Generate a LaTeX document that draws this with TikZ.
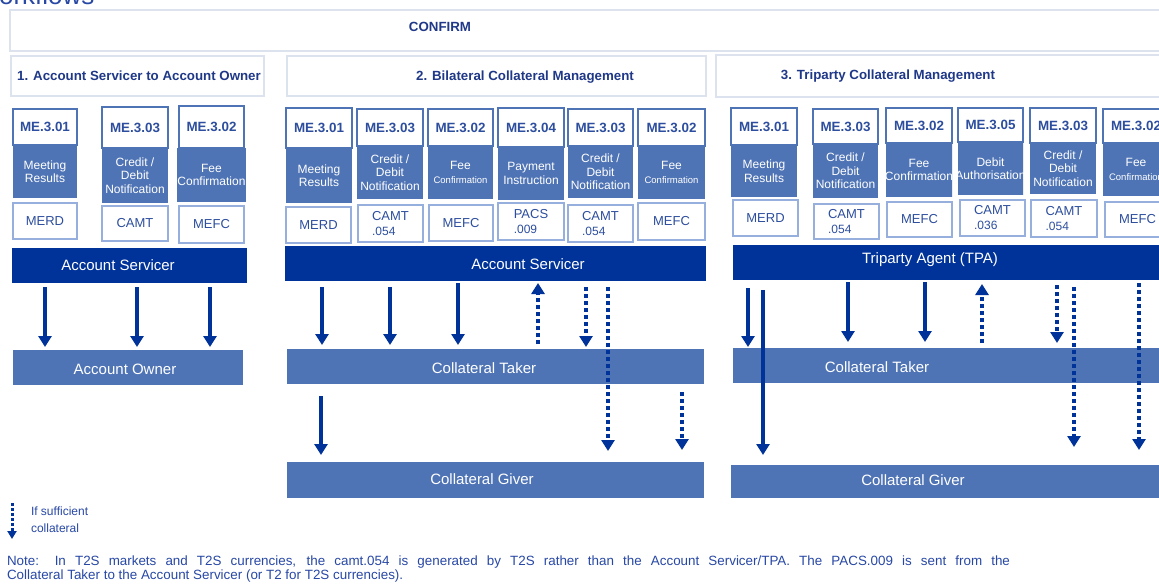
\documentclass[tikz,border=0pt]{standalone}
\usepackage{fontspec}
\setmainfont{Liberation Sans}
\usetikzlibrary{arrows.meta}
\definecolor{darkblue}{RGB}{0,51,153}
\definecolor{medblue}{RGB}{79,116,181}
\definecolor{codeblue}{RGB}{45,78,158}
\definecolor{navy}{RGB}{31,56,136}
\definecolor{msgline}{RGB}{150,175,220}
\definecolor{hdrline}{RGB}{220,226,238}
\definecolor{notecol}{RGB}{40,72,165}
\newcommand\bx[7]{\node[#2,minimum width={(#5-#3)*1pt},minimum height={(#6-#4)*1pt}] (#1) at ({(#3+#5)/2},{(#4+#6)/2}) {#7};}
\newcommand\smallconf{{\fontsize{9.5}{11}\selectfont Confirmation}}
\newcommand\smallnum[1]{{\fontsize{12}{13}\selectfont #1}}
\tikzset{
 every node/.style={inner sep=0pt, outer sep=0pt},
 frame/.style={draw=hdrline, line width=2pt, fill=white},
 codebox/.style={draw=medblue, line width=1.8pt, fill=white, text=codeblue, font=\bfseries\fontsize{13.4}{15}\selectfont},
 bodybox/.style={fill=medblue, text=white, align=center, font=\fontsize{12}{13.5}\selectfont},
 msgbox/.style={draw=msgline, line width=1.8pt, fill=white, text=codeblue, align=left, font=\fontsize{13}{15}\selectfont},
 darkbar/.style={fill=darkblue},
 midbar/.style={fill=medblue},
 bartext/.style={text=white, font=\fontsize{15}{17}\selectfont},
 hdrtext/.style={text=navy, font=\bfseries\fontsize{13.3}{15}\selectfont},
 arr/.style={draw=darkblue, line width=4pt, -{Triangle[width=13pt,length=11pt]}},
 darr/.style={arr, dash pattern=on 4pt off 3pt},
 notetext/.style={text=notecol, align=left, font=\fontsize{13.4}{14}\selectfont},
}
\begin{document}
\begin{tikzpicture}[x=1pt,y=-1pt]
\useasboundingbox[fill=white] (0,0) rectangle (1159,586);

% title fragment
\node[anchor=base west, text=notecol, font=\fontsize{26}{30}\selectfont] (title) at (-25,5) {Workflows};

% frames
\bx{confirm}{frame}{10}{10}{1175}{51}{}
\node[hdrtext] (confirmt) at (440,27) {CONFIRM};
\bx{h1}{frame}{11}{56}{264}{96}{}
\node[hdrtext] (h1t) at (139,76) {1. Account Servicer to Account Owner};
\bx{h2}{frame}{287}{56}{706}{96}{}
\node[hdrtext] (h2t) at (525,77) {2. Bilateral Collateral Management};
\bx{h3}{frame}{716}{55}{1175}{97}{}
\node[hdrtext] (h3t) at (888,76) {3. Triparty Collateral Management};

% ---------- section 1 columns
\bx{a1b}{bodybox}{13}{145}{77}{198}{Meeting\\Results}
\bx{a1c}{codebox}{13}{109}{77}{145}{ME.3.01}
\bx{a1m}{msgbox}{13}{203}{77}{239}{MERD}
\bx{a2b}{bodybox}{102}{148}{168}{203}{Credit /\\Debit\\Notification}
\bx{a2c}{codebox}{102}{107}{168}{148}{ME.3.03}
\bx{a2m}{msgbox}{102}{206}{168}{241}{CAMT}
\bx{a3b}{bodybox}{179}{148}{244}{202}{Fee\\Confirmation}
\bx{a3c}{codebox}{179}{106}{244}{148}{ME.3.02}
\bx{a3m}{msgbox}{179}{206}{244}{243}{MEFC}

% ---------- section 2 columns
\bx{b1b}{bodybox}{286}{148}{352}{203}{Meeting\\Results}
\bx{b1c}{codebox}{286}{108}{352}{148}{ME.3.01}
\bx{b1m}{msgbox}{286}{207}{351}{243}{MERD}
\bx{b2b}{bodybox}{357}{146}{423}{199}{Credit /\\Debit\\Notification}
\bx{b2c}{codebox}{357}{109}{423}{146}{ME.3.03}
\bx{b2m}{msgbox}{358}{205}{423}{242}{CAMT\\\smallnum{.054}}
\bx{b3b}{bodybox}{428}{146}{493}{199}{Fee\\\smallconf}
\bx{b3c}{codebox}{428}{109}{493}{146}{ME.3.02}
\bx{b3m}{msgbox}{429}{205}{493}{241}{MEFC}
\bx{b4b}{bodybox}{498}{147}{564}{200}{Payment\\Instruction}
\bx{b4c}{codebox}{498}{108}{564}{147}{ME.3.04}
\bx{b4m}{msgbox}{498}{203}{564}{240}{PACS\\\smallnum{.009}}
\bx{b5b}{bodybox}{568}{146}{633}{198}{Credit /\\Debit\\Notification}
\bx{b5c}{codebox}{568}{109}{633}{146}{ME.3.03}
\bx{b5m}{msgbox}{568}{205}{633}{242}{CAMT\\\smallnum{.054}}
\bx{b6b}{bodybox}{638}{146}{705}{199}{Fee\\\smallconf}
\bx{b6c}{codebox}{638}{109}{705}{146}{ME.3.02}
\bx{b6m}{msgbox}{638}{203}{705}{240}{MEFC}

% ---------- section 3 columns
\bx{c1b}{bodybox}{731}{145}{797}{197}{Meeting\\Results}
\bx{c1c}{codebox}{731}{108}{797}{145}{ME.3.01}
\bx{c1m}{msgbox}{733}{200}{798}{236}{MERD}
\bx{c2b}{bodybox}{813}{144}{878}{198}{Credit /\\Debit\\Notification}
\bx{c2c}{codebox}{813}{109}{878}{144}{ME.3.03}
\bx{c2m}{msgbox}{814}{204}{879}{239}{CAMT\\\smallnum{.054}}
\begin{scope}
\clip (886,143) rectangle (952,197);
\bx{c3b}{bodybox}{886}{143}{952}{197}{Fee\\Confirmation}
\end{scope}
\bx{c3c}{codebox}{886}{108}{952}{143}{ME.3.02}
\bx{c3m}{msgbox}{887}{202}{952}{237}{MEFC}
\begin{scope}
\clip (958,142) rectangle (1023,195);
\bx{c4b}{bodybox}{958}{142}{1023}{195}{Debit\\Authorisation}
\end{scope}
\bx{c4c}{codebox}{958}{108}{1023}{142}{ME.3.05}
\bx{c4m}{msgbox}{960}{200}{1025}{236}{CAMT\\\smallnum{.036}}
\bx{c5b}{bodybox}{1030}{143}{1096}{194}{Credit /\\Debit\\Notification}
\bx{c5c}{codebox}{1030}{108}{1096}{143}{ME.3.03}
\bx{c5m}{msgbox}{1031}{200}{1097}{237}{CAMT\\\smallnum{.054}}
\bx{c6b}{bodybox}{1103}{143}{1169}{196}{Fee\\\smallconf}
\bx{c6c}{codebox}{1103}{109}{1169}{143}{ME.3.02}
\bx{c6m}{msgbox}{1105}{202}{1170}{237}{MEFC}

% ---------- bars
\bx{AS1}{darkbar}{12}{248}{247}{283}{}
\node[bartext] (AS1t) at (118,265) {Account Servicer};
\bx{AO1}{midbar}{13}{350}{243}{385}{}
\node[bartext] (AO1t) at (125,369) {Account Owner};

\bx{AS2}{darkbar}{285}{246}{706}{281}{}
\node[bartext] (AS2t) at (528,264) {Account Servicer};
\bx{CT2}{midbar}{287}{349}{704}{384}{}
\node[bartext] (CT2t) at (484,368) {Collateral Taker};
\bx{CG2}{midbar}{287}{462}{704}{498}{}
\node[bartext] (CG2t) at (482,479) {Collateral Giver};

\bx{TPA}{darkbar}{733}{245}{1175}{280}{}
\node[bartext] (TPAt) at (930,260) {Triparty Agent (TPA)};
\bx{CT3}{midbar}{733}{348}{1175}{383}{}
\node[bartext] (CT3t) at (877,367) {Collateral Taker};
\bx{CG3}{midbar}{731}{465}{1175}{498}{}
\node[bartext] (CG3t) at (913,480) {Collateral Giver};

% ---------- arrows section 1
\foreach \xx in {45,137,210}
  \draw[arr, shorten <=4pt, shorten >=3pt] (\xx,0 |- AS1.south) -- (\xx,0 |- AO1.north);

% ---------- arrows section 2
\foreach \xx/\s in {322/6,390/6,458/2}
  \draw[arr, shorten <=\s pt, shorten >=4pt] (\xx,0 |- AS2.south) -- (\xx,0 |- CT2.north);
\draw[darr, shorten <=5pt, shorten >=2pt] (538,0 |- CT2.north) -- (538,0 |- AS2.south);
\draw[darr, shorten <=6pt, shorten >=2pt] (586,0 |- AS2.south) -- (586,0 |- CT2.north);
\draw[darr, shorten <=6pt, shorten >=11pt] (608,0 |- AS2.south) -- (608,0 |- CG2.north);
\draw[arr, shorten <=12pt, shorten >=7pt] (321,0 |- CT2.south) -- (321,0 |- CG2.north);
\draw[darr, shorten <=8pt, shorten >=12pt] (682,0 |- CT2.south) -- (682,0 |- CG2.north);

% ---------- arrows section 3
\draw[arr, shorten <=8pt, shorten >=1pt] (748,0 |- TPA.south) -- (748,0 |- CT3.north);
\draw[arr, shorten <=10pt, shorten >=10pt] (763,0 |- TPA.south) -- (763,0 |- CG3.north);
\foreach \xx in {848,925}
  \draw[arr, shorten <=2pt, shorten >=6pt] (\xx,0 |- TPA.south) -- (\xx,0 |- CT3.north);
\draw[darr, shorten <=5pt, shorten >=4pt] (982,0 |- CT3.north) -- (982,0 |- TPA.south);
\draw[darr, shorten <=5pt, shorten >=5pt] (1057,0 |- TPA.south) -- (1057,0 |- CT3.north);
\draw[darr, shorten <=7pt, shorten >=18pt] (1074,0 |- TPA.south) -- (1074,0 |- CG3.north);
\draw[darr, shorten <=3pt, shorten >=15pt] (1139,0 |- TPA.south) -- (1139,0 |- CG3.north);

% ---------- legend
\coordinate (lg1) at (12,503);
\coordinate (lg2) at (12,539);
\draw[draw=darkblue, line width=3pt, dash pattern=on 3pt off 2pt, -{Triangle[width=9pt,length=8pt]}] (lg1) -- (lg2);
\node[anchor=west, text=notecol, font=\fontsize{12}{14}\selectfont] (lgt1) at (31,511) {If sufficient};
\node[anchor=west, text=notecol, font=\fontsize{12}{14}\selectfont] (lgt2) at (31,528) {collateral};

% ---------- note
\node[notetext, anchor=north west] (note) at (7,556) {\makebox[1003pt][s]{Note: In T2S markets and T2S currencies, the camt.054 is generated by T2S rather than the Account Servicer/TPA. The PACS.009 is sent from the}\\Collateral Taker to the Account Servicer (or T2 for T2S currencies).};
\end{tikzpicture}
\end{document}
